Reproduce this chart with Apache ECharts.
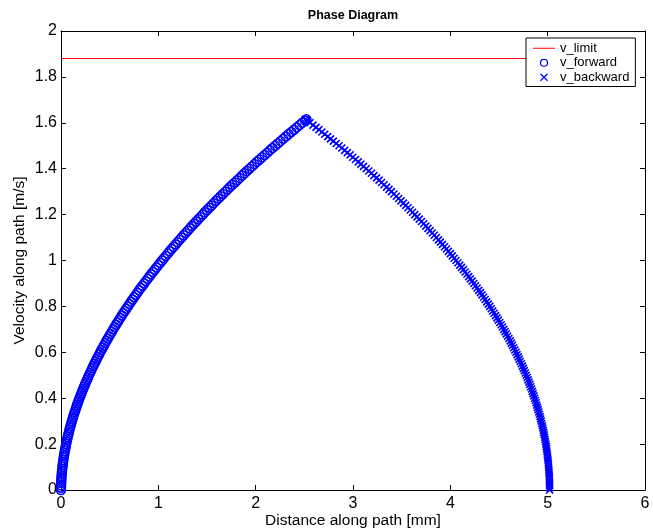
<!DOCTYPE html>
<html>
<head>
<meta charset="utf-8">
<script src="https://cdn.jsdelivr.net/npm/echarts@6/dist/echarts.min.js"></script>
<style>
html,body{margin:0;padding:0;background:#fff;}
#chart{width:653px;height:530px;}
</style>
</head>
<body>
<div id="chart"></div>
<script>
// ---- data ----
const chartTitle = 'Phase Diagram';
const xTitle = 'Distance along path [mm]';
const yTitle = 'Velocity along path [m/s]';
const seriesNames = ['v_limit', 'v_forward', 'v_backward'];

const limitX = [0, 5.02];
const limitV = [1.88, 1.88];

const fwdX = [0,0.0002,0.0007,0.0016,0.0027,0.0041,0.0057,0.0076,0.0097,0.0120,
0.0146,0.0174,0.0205,0.0237,0.0272,0.0309,0.0349,0.0390,0.0434,0.0480,
0.0527,0.0577,0.0629,0.0683,0.0739,0.0797,0.0857,0.0919,0.0983,0.1049,
0.1117,0.1187,0.1258,0.1332,0.1408,0.1486,0.1565,0.1647,0.1731,0.1816,
0.1902,0.1991,0.2082,0.2175,0.2269,0.2366,0.2464,0.2565,0.2667,0.2771,
0.2876,0.2983,0.3093,0.3204,0.3317,0.3431,0.3548,0.3666,0.3786,0.3908,
0.4031,0.4156,0.4283,0.4412,0.4543,0.4675,0.4809,0.4945,0.5083,0.5222,
0.5363,0.5505,0.5650,0.5796,0.5944,0.6094,0.6245,0.6398,0.6553,0.6709,
0.6866,0.7026,0.7187,0.7350,0.7515,0.7682,0.7850,0.8020,0.8192,0.8365,
0.8541,0.8718,0.8896,0.9076,0.9257,0.9441,0.9625,0.9812,1.0000,1.0190,
1.0381,1.0574,1.0769,1.0965,1.1163,1.1363,1.1564,1.1767,1.1972,1.2178,
1.2385,1.2595,1.2806,1.3018,1.3232,1.3448,1.3666,1.3885,1.4105,1.4327,
1.4551,1.4776,1.5003,1.5232,1.5462,1.5694,1.5927,1.6162,1.6399,1.6637,
1.6877,1.7118,1.7361,1.7605,1.7851,1.8099,1.8348,1.8599,1.8851,1.9105,
1.9359,1.9616,1.9874,2.0134,2.0396,2.0659,2.0924,2.1190,2.1458,2.1727,
2.1999,2.2271,2.2545,2.2821,2.3098,2.3376,2.3657,2.3938,2.4221,2.4506,
2.4790,2.5078,2.522];
const fwdV = [0,0.01,0.02,0.03,0.04,0.05,0.06,0.07,0.08,0.09,
0.10,0.11,0.12,0.13,0.14,0.15,0.16,0.17,0.18,0.19,
0.20,0.21,0.22,0.23,0.24,0.25,0.26,0.27,0.28,0.29,
0.30,0.31,0.32,0.33,0.34,0.35,0.36,0.37,0.38,0.39,
0.40,0.41,0.42,0.43,0.44,0.45,0.46,0.47,0.48,0.49,
0.50,0.51,0.52,0.53,0.54,0.55,0.56,0.57,0.58,0.59,
0.60,0.61,0.62,0.63,0.64,0.65,0.66,0.67,0.68,0.69,
0.70,0.71,0.72,0.73,0.74,0.75,0.76,0.77,0.78,0.79,
0.80,0.81,0.82,0.83,0.84,0.85,0.86,0.87,0.88,0.89,
0.90,0.91,0.92,0.93,0.94,0.95,0.96,0.97,0.98,0.99,
1.00,1.01,1.02,1.03,1.04,1.05,1.06,1.07,1.08,1.09,
1.10,1.11,1.12,1.13,1.14,1.15,1.16,1.17,1.18,1.19,
1.20,1.21,1.22,1.23,1.24,1.25,1.26,1.27,1.28,1.29,
1.30,1.31,1.32,1.33,1.34,1.35,1.36,1.37,1.38,1.39,
1.40,1.41,1.42,1.43,1.44,1.45,1.46,1.47,1.48,1.49,
1.50,1.51,1.52,1.53,1.54,1.55,1.56,1.57,1.58,1.59,
1.60,1.61,1.615];

const bwdX = [5.020,5.020,5.020,5.019,5.018,5.018,5.017,5.015,5.014,5.012,
5.010,5.008,5.006,5.004,5.001,4.998,4.995,4.992,4.989,4.985,
4.982,4.978,4.973,4.969,4.965,4.960,4.955,4.950,4.945,4.939,
4.933,4.928,4.922,4.915,4.909,4.902,4.895,4.888,4.881,4.874,
4.866,4.858,4.850,4.842,4.834,4.825,4.817,4.808,4.798,4.789,
4.780,4.770,4.760,4.750,4.740,4.729,4.718,4.708,4.697,4.685,
4.674,4.662,4.650,4.638,4.626,4.614,4.601,4.588,4.575,4.562,
4.549,4.535,4.522,4.508,4.493,4.479,4.465,4.450,4.435,4.420,
4.405,4.389,4.373,4.358,4.342,4.325,4.309,4.292,4.275,4.258,
4.241,4.224,4.206,4.188,4.170,4.152,4.134,4.115,4.097,4.078,
4.058,4.039,4.020,4.000,3.980,3.960,3.940,3.919,3.898,3.878,
3.857,3.835,3.814,3.792,3.770,3.748,3.726,3.704,3.681,3.658,
3.635,3.612,3.589,3.565,3.542,3.518,3.493,3.469,3.445,3.420,
3.395,3.370,3.345,3.319,3.293,3.268,3.242,3.215,3.189,3.162,
3.135,3.108,3.081,3.054,3.026,2.998,2.970,2.942,2.914,2.885,
2.857,2.828,2.798,2.769,2.740,2.710,2.680,2.650,2.620,2.589,
2.558,2.528,2.512];
const bwdV = [0,0.01,0.02,0.03,0.04,0.05,0.06,0.07,0.08,0.09,
0.10,0.11,0.12,0.13,0.14,0.15,0.16,0.17,0.18,0.19,
0.20,0.21,0.22,0.23,0.24,0.25,0.26,0.27,0.28,0.29,
0.30,0.31,0.32,0.33,0.34,0.35,0.36,0.37,0.38,0.39,
0.40,0.41,0.42,0.43,0.44,0.45,0.46,0.47,0.48,0.49,
0.50,0.51,0.52,0.53,0.54,0.55,0.56,0.57,0.58,0.59,
0.60,0.61,0.62,0.63,0.64,0.65,0.66,0.67,0.68,0.69,
0.70,0.71,0.72,0.73,0.74,0.75,0.76,0.77,0.78,0.79,
0.80,0.81,0.82,0.83,0.84,0.85,0.86,0.87,0.88,0.89,
0.90,0.91,0.92,0.93,0.94,0.95,0.96,0.97,0.98,0.99,
1.00,1.01,1.02,1.03,1.04,1.05,1.06,1.07,1.08,1.09,
1.10,1.11,1.12,1.13,1.14,1.15,1.16,1.17,1.18,1.19,
1.20,1.21,1.22,1.23,1.24,1.25,1.26,1.27,1.28,1.29,
1.30,1.31,1.32,1.33,1.34,1.35,1.36,1.37,1.38,1.39,
1.40,1.41,1.42,1.43,1.44,1.45,1.46,1.47,1.48,1.49,
1.50,1.51,1.52,1.53,1.54,1.55,1.56,1.57,1.58,1.59,
1.60,1.61,1.615];

const xTicks = [0, 1, 2, 3, 4, 5, 6];
const yTicks = [0, 0.2, 0.4, 0.6, 0.8, 1, 1.2, 1.4, 1.6, 1.8, 2];

// ---- chart ----
const FONT = '"Liberation Sans", Arial, Helvetica, sans-serif';
const pairs = (xs, ys) => xs.map((x, i) => [x, ys[i]]);
const crossPath = 'path://M0,0L10,10M10,0L0,10';
const lineIconPath = 'path://M0,0H22V1H0Z';

const axisCommon = {
  type: 'value',
  axisLine: { show: true, onZero: false, lineStyle: { color: '#000', width: 1 } },
  axisTick: { show: true, inside: true, length: 5, lineStyle: { color: '#000', width: 1 } },
  splitLine: { show: false }
};

const chart = echarts.init(document.getElementById('chart'), null, { renderer: 'canvas' });
chart.setOption({
  animation: false,
  backgroundColor: '#fff',
  textStyle: { fontFamily: FONT },
  title: {
    text: chartTitle,
    left: 353, top: 9, padding: 0, textAlign: 'center',
    textStyle: { fontFamily: FONT, fontSize: 12.5, fontWeight: 'bold', color: '#000' }
  },
  grid: { left: 61, right: 8, top: 31, bottom: 40, outerBoundsMode: 'none', containLabel: false },
  legend: {
    data: [
      { name: seriesNames[0], icon: lineIconPath, itemStyle: { color: '#ff0000', borderWidth: 0 } },
      { name: seriesNames[1], icon: 'circle', itemStyle: { color: 'rgba(0,0,0,0)', borderColor: '#0000ff', borderWidth: 1.2 } },
      { name: seriesNames[2], icon: crossPath, itemStyle: { color: '#0000ff', borderColor: '#0000ff', borderWidth: 1.2 } }
    ],
    orient: 'vertical',
    left: 526, top: 38,
    padding: [3, 6, 2, 7],
    itemGap: 0,
    itemWidth: 22, itemHeight: 7,
    backgroundColor: '#fff',
    borderColor: '#000', borderWidth: 1, borderRadius: 0,
    textStyle: { fontFamily: FONT, fontSize: 13, color: '#000', lineHeight: 14.5 }
  },
  xAxis: [
    Object.assign({}, axisCommon, {
      min: xTicks[0], max: xTicks[xTicks.length - 1], interval: 1, position: 'bottom',
      axisLabel: { color: '#000', fontSize: 16, margin: 6, fontFamily: FONT },
      name: xTitle, nameLocation: 'middle', nameGap: 23, nameMoveOverlap: false,
      nameTextStyle: { color: '#000', fontSize: 15.5, fontFamily: FONT }
    }),
    Object.assign({}, axisCommon, {
      min: xTicks[0], max: xTicks[xTicks.length - 1], interval: 1, position: 'top',
      axisLabel: { show: false }
    })
  ],
  yAxis: [
    Object.assign({}, axisCommon, {
      min: yTicks[0], max: yTicks[yTicks.length - 1], interval: 0.2, position: 'left',
      axisLabel: { color: '#000', fontSize: 16, margin: 4, fontFamily: FONT },
      name: yTitle, nameLocation: 'middle', nameGap: 33, nameMoveOverlap: false,
      nameTextStyle: { color: '#000', fontSize: 15.5, fontFamily: FONT }
    }),
    Object.assign({}, axisCommon, {
      min: yTicks[0], max: yTicks[yTicks.length - 1], interval: 0.2, position: 'right',
      axisLabel: { show: false }
    })
  ],
  series: [
    {
      name: seriesNames[0], type: 'line',
      data: pairs(limitX, limitV),
      showSymbol: false, symbol: 'none',
      lineStyle: { color: '#ff0000', width: 1 },
      itemStyle: { color: '#ff0000' },
      z: 2
    },
    {
      name: seriesNames[1], type: 'scatter',
      data: pairs(fwdX, fwdV),
      symbol: 'circle', symbolSize: 9,
      itemStyle: { color: 'rgba(0,0,0,0)', borderColor: '#0000ff', borderWidth: 1.5, opacity: 1 },
      z: 3
    },
    {
      name: seriesNames[2], type: 'scatter',
      data: pairs(bwdX, bwdV),
      symbol: crossPath, symbolSize: 7,
      itemStyle: { color: '#0000ff', borderColor: '#0000ff', borderWidth: 1.6, opacity: 1 },
      z: 3
    }
  ]
});
</script>
</body>
</html>
